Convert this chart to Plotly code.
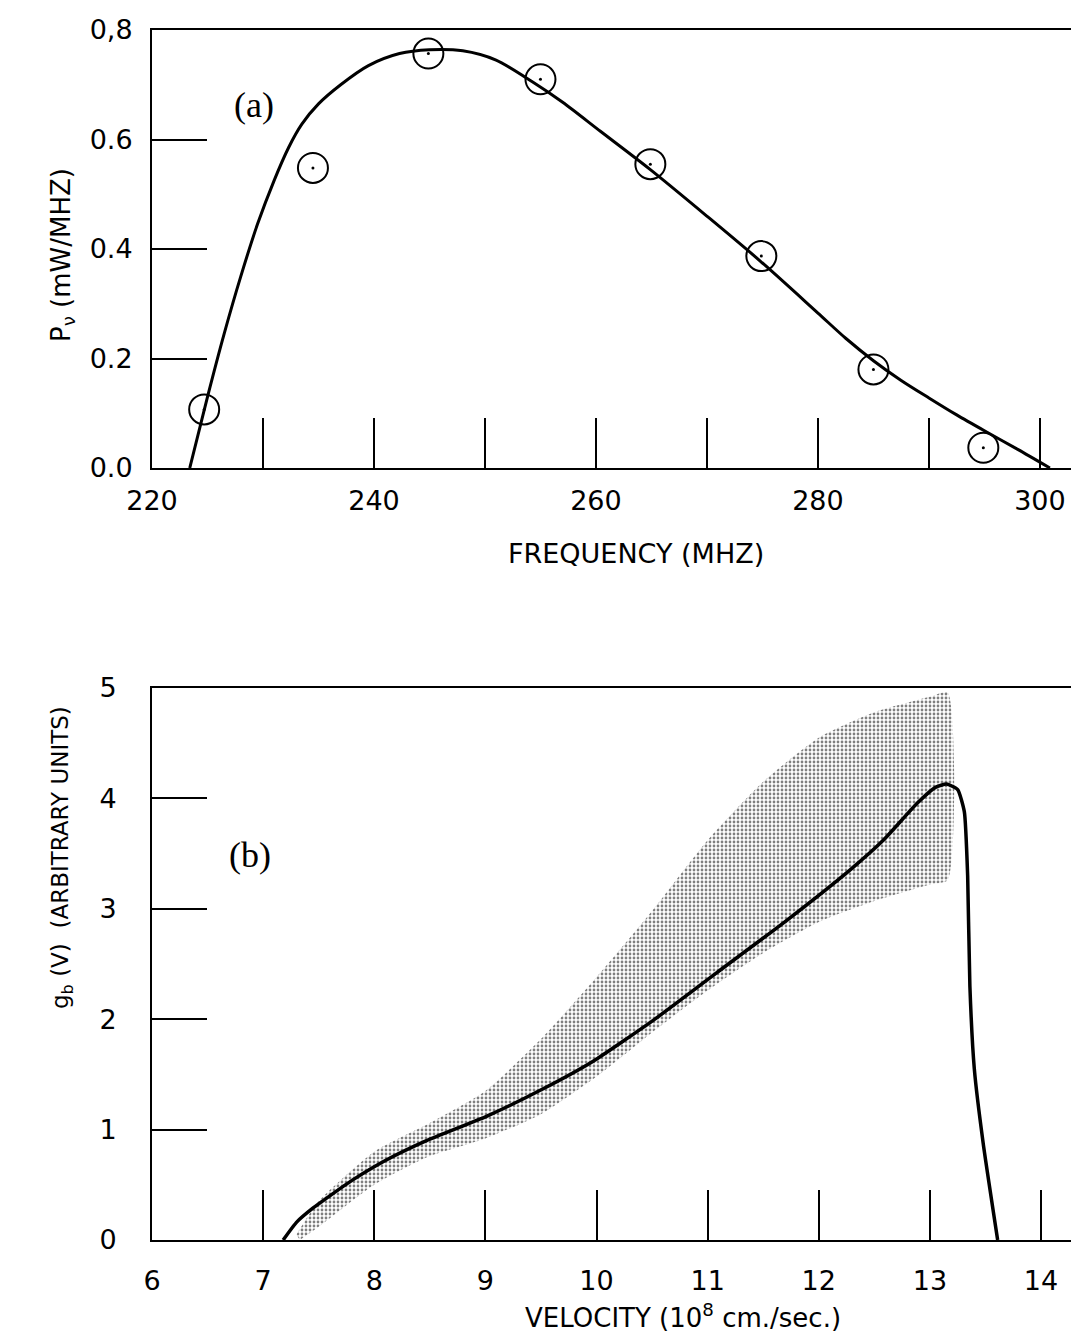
import plotly.graph_objects as go

# ---- Panel (a) data ----
freq_pts = [224.7, 234.5, 244.9, 255.0, 264.9, 274.9, 285.0, 294.9]
pow_pts = [0.107, 0.548, 0.757, 0.71, 0.555, 0.387, 0.18, 0.037]

freq_curve = [223.4, 225.0, 226.5, 228.0, 229.5, 231.0, 232.3, 233.5, 235.0, 237.0, 239.5,
              242.3, 245.0, 248.0, 251.0, 254.3, 257.0, 260.4, 264.9, 270.0, 274.8, 280.0,
              282.5, 285.0, 287.5, 290.0, 292.5, 295.0, 298.0, 300.9]
pow_curve = [0.0, 0.13, 0.245, 0.35, 0.445, 0.525, 0.585, 0.628, 0.665, 0.70, 0.735,
             0.757, 0.764, 0.762, 0.745, 0.705, 0.668, 0.615, 0.545, 0.46, 0.378, 0.283,
             0.237, 0.196, 0.16, 0.128, 0.097, 0.068, 0.034, 0.0]

# ---- Panel (b) data ----
vel_curve = [7.18, 7.30, 7.45, 7.60, 7.80, 8.10, 8.47, 9.01, 9.52, 9.97, 10.51, 11.08, 11.68,
             12.28, 12.58, 12.89, 13.05, 13.15, 13.25, 13.31, 13.34, 13.36, 13.40, 13.48, 13.61]
g_curve = [0.0, 0.16, 0.29, 0.40, 0.54, 0.72, 0.90, 1.12, 1.37, 1.62, 1.99, 2.42, 2.87,
           3.35, 3.62, 3.96, 4.10, 4.13, 4.08, 3.88, 3.3, 2.3, 1.55, 0.875, 0.0]

band_up_v = [7.30, 7.50, 8.00, 8.50, 9.00, 9.50, 10.00, 10.50, 11.00, 11.50, 12.00, 12.50,
             13.00, 13.16]
band_up_g = [0.05, 0.35, 0.80, 1.06, 1.35, 1.82, 2.38, 2.98, 3.62, 4.15, 4.55, 4.78,
             4.92, 4.96]
band_lo_v = [7.33, 7.50, 8.00, 8.50, 9.00, 9.50, 10.00, 10.50, 11.00, 11.50, 12.00, 12.50,
             13.00, 13.16]
band_lo_g = [0.0, 0.12, 0.50, 0.76, 0.92, 1.14, 1.48, 1.88, 2.26, 2.60, 2.88, 3.07,
             3.22, 3.26]

# tick labels
freq_tickvals = [220, 240, 260, 280, 300]
freq_ticktext = ["220", "240", "260", "280", "300"]
pow_tickvals = [0.0, 0.2, 0.4, 0.6, 0.8]
pow_ticktext = ["0.0", "0.2", "0.4", "0.6", "0,8"]
vel_tickvals = [6, 7, 8, 9, 10, 11, 12, 13, 14]
vel_ticktext = ["6", "7", "8", "9", "10", "11", "12", "13", "14"]
g_tickvals = [0, 1, 2, 3, 4, 5]
g_ticktext = ["0", "1", "2", "3", "4", "5"]

W, H = 1071, 1335
L, R, T, B = 152, 0, 30, 95
plot_h = H - T - B  # 1210


def py(px):
    return (H - B - px) / plot_h


def pxx(px):
    return (px - L) / (W - L - R)


FONT = "DejaVu Sans"

fig = go.Figure()

# stippled band (polygon)
poly_x = band_up_v + band_lo_v[::-1]
poly_y = band_up_g + band_lo_g[::-1]
fig.add_trace(go.Scatter(x=poly_x, y=poly_y, xaxis="x2", yaxis="y2", mode="lines",
                         fill="toself", line=dict(width=0, color="rgba(0,0,0,0)", shape="spline",
                                                  smoothing=0.6),
                         fillcolor="rgba(255,255,255,0)",
                         fillpattern=dict(shape=".", size=4, solidity=0.38, fgcolor="black",
                                          bgcolor="white"),
                         showlegend=False, hoverinfo="skip"))

fig.add_trace(go.Scatter(x=vel_curve, y=g_curve, xaxis="x2", yaxis="y2", mode="lines",
                         line=dict(color="black", width=3.5, shape="spline", smoothing=0.5),
                         showlegend=False))

fig.add_trace(go.Scatter(x=freq_curve, y=pow_curve, xaxis="x", yaxis="y", mode="lines",
                         line=dict(color="black", width=3, shape="spline", smoothing=0.8),
                         showlegend=False))
fig.add_trace(go.Scatter(x=freq_pts, y=pow_pts, xaxis="x", yaxis="y", mode="markers",
                         marker=dict(symbol="circle-open", size=30, color="black",
                                     line=dict(width=2, color="black")),
                         showlegend=False))
fig.add_trace(go.Scatter(x=freq_pts, y=pow_pts, xaxis="x", yaxis="y", mode="markers",
                         marker=dict(symbol="circle", size=3, color="black"),
                         showlegend=False))

axis_common = dict(showgrid=False, zeroline=False, showline=True, linecolor="black",
                   linewidth=2, ticks="inside", tickcolor="black", tickwidth=2,
                   tickfont=dict(family=FONT, size=27, color="black"))

fig.update_layout(
    width=W, height=H,
    margin=dict(l=L, r=R, t=T, b=B),
    paper_bgcolor="white", plot_bgcolor="white",
    showlegend=False,
    xaxis=dict(domain=[0, 1], anchor="y", range=[220, 302.8], tickmode="array",
               tickvals=freq_tickvals, ticktext=freq_ticktext, ticklen=50,
               minor=dict(ticks="inside", ticklen=50, tickwidth=2, tickcolor="black",
                          tick0=220, dtick=10, showgrid=False),
               mirror=True, ticklabelstandoff=8, **axis_common),
    yaxis=dict(domain=[py(468), py(30)], anchor="x", range=[0, 0.8], tickmode="array",
               tickvals=pow_tickvals, ticktext=pow_ticktext, ticklen=55,
               ticklabelstandoff=12, **axis_common),
    xaxis2=dict(domain=[0, 1], anchor="y2", range=[6, 14.27], tickmode="array",
                tickvals=vel_tickvals, ticktext=vel_ticktext, ticklen=50,
                mirror=True, ticklabelstandoff=16, **axis_common),
    yaxis2=dict(domain=[0, py(688)], anchor="x2", range=[0, 5], tickmode="array",
                tickvals=g_tickvals, ticktext=g_ticktext, ticklen=55,
                ticklabelstandoff=28, **axis_common),
)


def ann(text, x, y, size, angle=0, family=FONT):
    fig.add_annotation(text=text, xref="paper", yref="paper", x=pxx(x), y=py(y),
                       xanchor="center", yanchor="middle", showarrow=False,
                       textangle=angle, font=dict(family=family, size=size, color="black"))


ann("FREQUENCY (MHZ)", 636, 553, 27)
ann("VELOCITY (10<sup>8</sup> cm./sec.)", 683, 1316, 26)
ann("P<sub>ν</sub> (mW/MHZ)", 62, 255, 26, angle=-90)
ann("g<sub>b</sub> (V)  (ARBITRARY UNITS)", 62, 858, 23, angle=-90)
ann("(a)", 254, 105, 36, family="Liberation Serif")
ann("(b)", 250, 855, 36, family="Liberation Serif")

fig.write_html("out.html", config={"displayModeBar": False},
               post_script="document.body.style.margin='0px';"
                           "document.body.style.overflow='hidden';")
